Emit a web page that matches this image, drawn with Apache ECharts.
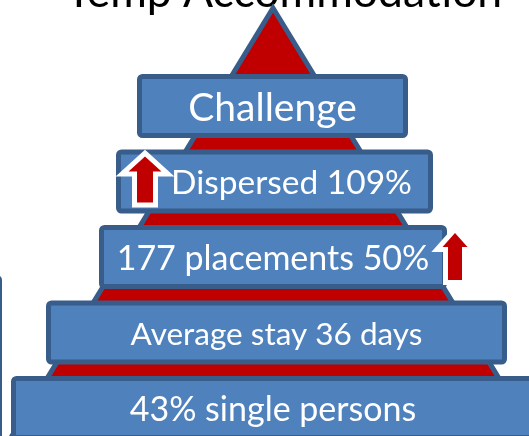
<!DOCTYPE html>
<html>
<head>
<meta charset="utf-8">
<script src="https://cdn.jsdelivr.net/npm/echarts@6/dist/echarts.min.js"></script>
<style>
  html, body { margin: 0; padding: 0; background: #fff; }
  #chart { width: 529px; height: 436px; }
</style>
</head>
<body>
<div id="chart"></div>
<script>
// pyramid levels, top to bottom
var levels = ['Challenge', 'Dispersed 109%', '177 placements 50%', 'Average stay 36 days', '43% single persons'];
// extent of each level's bar on the x scale
var levelStart = [137, 116, 99, 46, 11];
var levelEnd = [408, 433, 447, 507, 535];
// levels that went up
var risingLevels = ['Dispersed 109%', '177 placements 50%'];

var FONT = 'Lato';
var BLUE = '#4F81BD', BORDER = '#385D8A', RED = '#C00000';
var fontSizes = [39, 33.5, 34, 31.5, 34];

var chart = echarts.init(document.getElementById('chart'));

function arrowPoints(cx, cy, h, headH, headHalf, shaftHalf) {
    var top = cy - h / 2, neck = top + headH, bot = cy + h / 2;
    return [[cx, top], [cx + headHalf, neck], [cx + shaftHalf, neck], [cx + shaftHalf, bot],
        [cx - shaftHalf, bot], [cx - shaftHalf, neck], [cx - headHalf, neck]];
}

chart.setOption({
    animation: false,
    grid: { left: 0, right: 0, top: 0, bottom: 0 },
    xAxis: { type: 'value', min: 0, max: 529, show: false },
    yAxis: { type: 'value', min: -1.404, max: 4.371, inverse: true, show: false },
    graphic: [{
        type: 'text',
        x: 284,
        y: -29.5,
        style: { text: 'Temp Accommodation', font: '44.5px ' + FONT, fill: '#000', align: 'center', verticalAlign: 'top' }
    }, {
        // edge of a shape cut off on the left
        type: 'rect',
        shape: { x: -60, y: 277, width: 60, height: 200, r: 3 },
        style: { fill: BLUE, stroke: BORDER, lineWidth: 4 }
    }],
    series: [{
        // red pyramid behind the levels
        type: 'custom',
        z: 1,
        silent: true,
        data: [[273, -1.298, 4.6]],
        encode: { x: 0, y: 1 },
        renderItem: function(params, api) {
            var apex = api.coord([api.value(0), api.value(1)]);
            var base = api.coord([api.value(0), api.value(2)]);
            var half = (base[1] - apex[1]) * 0.61;
            return {
                type: 'polygon',
                shape: { points: [apex, [base[0] - half, base[1]], [base[0] + half, base[1]]] },
                style: { fill: RED, stroke: BORDER, lineWidth: 5, lineJoin: 'miter' }
            };
        }
    }, {
        type: 'custom',
        z: 2,
        silent: true,
        data: levels.map(function(name, i) { return [levelStart[i], levelEnd[i], i, name]; }),
        encode: { x: [0, 1], y: 2 },
        renderItem: function(params, api) {
            var i = params.dataIndex;
            var s = api.coord([api.value(0), api.value(2)]);
            var e = api.coord([api.value(1), api.value(2)]);
            var boxH = api.size([0, 1])[1] * 0.848;
            var dx = risingLevels.indexOf(levels[i]) === 0 ? 17 : 0;
            return {
                type: 'group',
                children: [{
                    type: 'rect',
                    shape: { x: s[0] + 2.5, y: s[1] - boxH / 2 + 2.5, width: e[0] - s[0] - 5, height: boxH - 5, r: 3 },
                    style: { fill: BLUE, stroke: BORDER, lineWidth: 5 }
                }, {
                    type: 'text',
                    x: (s[0] + e[0]) / 2 + dx,
                    y: s[1] + 2,
                    style: {
                        text: levels[i], fill: '#fff', font: fontSizes[i] + 'px ' + FONT,
                        align: 'center', verticalAlign: 'middle'
                    }
                }]
            };
        }
    }, {
        // up arrows on the rising levels
        type: 'custom',
        z: 3,
        silent: true,
        data: risingLevels.map(function(name) {
            var i = levels.indexOf(name);
            return [levelStart[i], levelEnd[i], i];
        }),
        encode: { x: [0, 1], y: 2 },
        renderItem: function(params, api) {
            var s = api.coord([api.value(0), api.value(2)]);
            var e = api.coord([api.value(1), api.value(2)]);
            var pts = params.dataIndex === 0
                ? arrowPoints(s[0] + 29, s[1] - 2, 46, 15, 16.5, 8)
                : arrowPoints(e[0] + 8, s[1] - 0.5, 47, 14, 12.5, 7);
            return {
                type: 'group',
                children: [{
                    type: 'polygon',
                    shape: { points: pts },
                    style: { fill: '#fff', stroke: '#fff', lineWidth: 10, lineJoin: 'miter' }
                }, {
                    type: 'polygon',
                    shape: { points: pts },
                    style: { fill: RED }
                }]
            };
        }
    }]
});
</script>
</body>
</html>
